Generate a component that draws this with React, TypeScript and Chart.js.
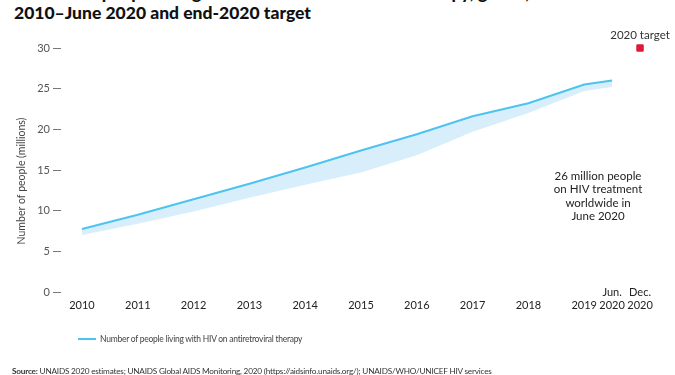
import React, { useEffect, useRef } from "react";
import { Chart, registerables } from "chart.js";

Chart.register(...registerables);

// Periods (annual values are end-of-year; last point is June 2020)
const periodLabels: (string | string[])[] = [
  "2010", "2011", "2012", "2013", "2014", "2015", "2016", "2017", "2018", "2019", ["Jun.", "2020"],
];
const periodPositions = [2010, 2011, 2012, 2013, 2014, 2015, 2016, 2017, 2018, 2019, 2019.5];

// Number of people living with HIV on ART (millions)
const artValues = [7.75, 9.5, 11.4, 13.3, 15.3, 17.4, 19.4, 21.6, 23.2, 25.5, 26.0];
const artLowerBound = [7.0, 8.4, 9.9, 11.6, 13.2, 14.7, 16.8, 19.7, 22.0, 24.7, 25.2];

// End-2020 target
const targetLabel = ["Dec.", "2020"];
const targetPosition = 2020;
const targetValue = 30;

const yTickValues = [0, 5, 10, 15, 20, 25, 30];

const annotationLines = ["26 million people", "on HIV treatment", "worldwide in", "June 2020"];

const FONT = "Lato, 'Noto Sans', sans-serif";

export default function App() {
  const ref = useRef<HTMLCanvasElement | null>(null);

  useEffect(() => {
    if (!ref.current) return;
    const textPlugin = {
      id: "customText",
      afterDraw(chart: any) {
        const ctx = chart.ctx;
        const xs = chart.scales.x;
        const ys = chart.scales.y;
        ctx.save();
        // x labels
        ctx.fillStyle = "#222";
        ctx.font = `11px ${FONT}`;
        ctx.textAlign = "center";
        ctx.textBaseline = "middle";
        const allLabels = [...periodLabels, targetLabel];
        const allPos = [...periodPositions, targetPosition];
        allLabels.forEach((lab, i) => {
          const lines = Array.isArray(lab) ? lab : [lab];
          const x = xs.getPixelForValue(allPos[i]);
          lines.forEach((t, j) => {
            const y = ys.bottom + 13 - (lines.length - 1 - j) * 13;
            ctx.fillText(t, x, y);
          });
        });
        // target label
        ctx.fillStyle = "#333";
        ctx.font = `11.5px ${FONT}`;
        ctx.fillText("2020 target", xs.getPixelForValue(targetPosition), ys.getPixelForValue(targetValue) - 13);
        // annotation
        ctx.fillStyle = "#222";
        annotationLines.forEach((t, j) => {
          ctx.fillText(t, 598, ys.getPixelForValue(14.5) + 2 + j * 13.5);
        });
        // y title
        ctx.translate(22, (ys.top + ys.bottom) / 2 + 11);
        ctx.rotate(-Math.PI / 2);
        ctx.fillStyle = "#444";
        ctx.font = `10.5px ${FONT}`;
        ctx.fillText("Number of people (millions)", 0, 0);
        ctx.restore();
      },
    };

    const chart = new Chart(ref.current, {
      type: "line",
      data: {
        datasets: [
          {
            label: "lower",
            data: artLowerBound.map((v, i) => ({ x: periodPositions[i], y: v })),
            borderWidth: 0,
            pointRadius: 0,
            fill: false,
            borderColor: "rgba(0,0,0,0)",
          },
          {
            label: "Number of people living with HIV on antiretroviral therapy",
            data: artValues.map((v, i) => ({ x: periodPositions[i], y: v })),
            borderColor: "#4cc3f1",
            backgroundColor: "#d8effb",
            borderWidth: 2,
            pointRadius: 0,
            fill: "-1",
            tension: 0,
          },
          {
            label: "2020 target",
            data: [{ x: targetPosition, y: targetValue }],
            showLine: false,
            pointStyle: "rect",
            pointRadius: 4.5,
            pointBackgroundColor: "#e2183a",
            pointBorderColor: "#e2183a",
            clip: false as any,
          },
        ],
      },
      options: {
        animation: false,
        responsive: false,
        devicePixelRatio: 1,
        layout: { padding: { top: 48, bottom: 83, right: 15, left: 0 } },
        plugins: { legend: { display: false }, tooltip: { enabled: false } },
        scales: {
          x: {
            type: "linear",
            min: 2009.624,
            max: 2020.358,
            display: false,
          },
          y: {
            min: 0,
            max: 30,
            afterFit: (s: any) => {
              s.width = 61;
            },
            afterBuildTicks: (s: any) => {
              s.ticks = yTickValues.map((v) => ({ value: v }));
            },
            border: { display: false },
            grid: { drawOnChartArea: false, drawTicks: true, tickLength: 8, color: "#777" },
            ticks: { color: "#555", font: { family: FONT, size: 11 }, padding: 3 },
          },
        },
      },
      plugins: [textPlugin],
    } as any);
    return () => chart.destroy();
  }, []);

  return (
    <div style={{ position: "fixed", left: 0, top: 0, width: 675, height: 375, overflow: "hidden", background: "#fff", fontFamily: FONT }}>
      <div style={{ position: "absolute", left: 14, top: -17, fontSize: 17.5, fontWeight: 900, lineHeight: "20px", color: "#111", width: 660, whiteSpace: "nowrap" }}>
        Number of people living with HIV on antiretroviral therapy, global,
        <br />
        2010–June 2020 and end-2020 target
      </div>
      <canvas ref={ref} width={675} height={375} style={{ position: "absolute", left: 0, top: 0 }} />
      <div style={{ position: "absolute", left: 78, top: 334, display: "flex", alignItems: "center", fontSize: 8.5, letterSpacing: -0.25, color: "#444" }}>
        <span style={{ display: "inline-block", width: 18, height: 2, background: "#4cc3f1", marginRight: 4 }} />
        <span>Number of people living with HIV on antiretroviral therapy</span>
      </div>
      <div style={{ position: "absolute", left: 12, top: 366, fontSize: 8.2, letterSpacing: -0.2, color: "#333", whiteSpace: "nowrap" }}>
        <b>Source:</b> UNAIDS 2020 estimates; UNAIDS Global AIDS Monitoring, 2020 (https://aidsinfo.unaids.org/); UNAIDS/WHO/UNICEF HIV services
      </div>
    </div>
  );
}
